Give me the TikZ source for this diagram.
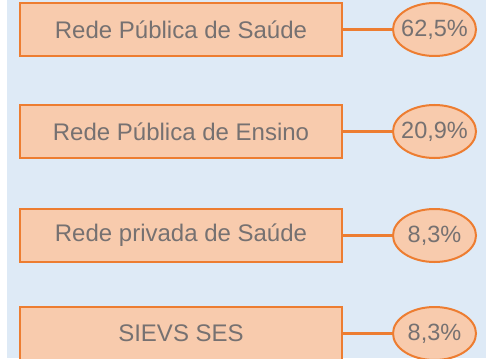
\documentclass[tikz,border=0pt]{standalone}
\usepackage{fontspec}
\setmainfont{Liberation Sans}
\usetikzlibrary{shapes.geometric}
\definecolor{bgblue}{HTML}{DEEAF6}
\definecolor{peach}{HTML}{F8CBAD}
\definecolor{orangeline}{HTML}{ED7D31}
\definecolor{txtgray}{HTML}{767171}
\tikzset{
  catbox/.style={draw=orangeline, line width=2pt, fill=peach, minimum width=322pt, minimum height=53pt, inner sep=0pt, text=txtgray, font=\fontsize{24}{26}\selectfont},
  pctell/.style={ellipse, draw=orangeline, line width=2pt, fill=peach, minimum width=83pt, minimum height=53pt, inner xsep=-4pt, inner ysep=0pt, text=txtgray, font=\fontsize{23.5}{26}\selectfont},
  link/.style={draw=orangeline, line width=3.5pt}
}
\begin{document}
\begin{tikzpicture}[x=1pt,y=-1pt]
\useasboundingbox (0,0) rectangle (486,358);
\clip (0,0) rectangle (486,358);
\fill[bgblue] (7,0) rectangle (486,358);
\node[catbox] (b1) at (181,29.5) {Rede Pública de Saúde};
\node[pctell] (e1) at (434.5,29.5) {62,5\%};
\node[catbox] (b2) at (181,131.5) {Rede Pública de Ensino};
\node[pctell] (e2) at (434.5,131.5) {20,9\%};
\node[catbox] (b3) at (181,235.5) {Rede privada de Saúde};
\node[pctell] (e3) at (434.5,235.5) {8,3\%};
\node[catbox] (b4) at (181,333.5) {SIEVS SES};
\node[pctell] (e4) at (434.5,333.5) {8,3\%};
\draw[link] (b1) -- (e1);
\draw[link] (b2) -- (e2);
\draw[link] (b3) -- (e3);
\draw[link] (b4) -- (e4);
\end{tikzpicture}
\end{document}
